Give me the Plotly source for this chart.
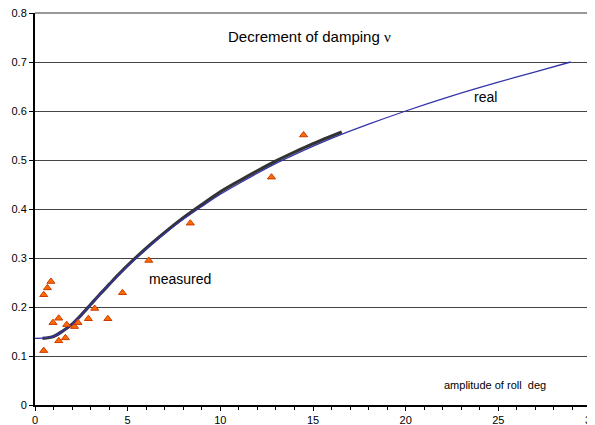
import plotly.graph_objects as go

# measured points (amplitude deg, decrement)
meas_x = [0.47, 0.47, 0.67, 0.86, 0.97, 1.28, 1.28, 1.64, 1.71, 2.13, 2.32, 2.88, 3.22, 3.93, 4.72, 6.14, 8.38, 12.76, 14.49]
meas_y = [0.111, 0.225, 0.239, 0.252, 0.168, 0.177, 0.131, 0.137, 0.164, 0.160, 0.168, 0.176, 0.197, 0.176, 0.229, 0.295, 0.371, 0.465, 0.551]

# "real" curve (thin blue)
real_x = [0, 0.5, 1.0, 1.5, 2.0, 2.5, 3.0, 3.5, 4.0, 4.5, 5.0, 6.0, 7.0, 8.0, 9.0, 10.0, 11.0, 12.0, 13.0, 14.0, 16.0, 18.0, 20.0, 22.5, 25.0, 27.0, 28.9]
real_y = [0.136, 0.137, 0.140, 0.151, 0.165, 0.184, 0.205, 0.226, 0.246, 0.265, 0.2835, 0.318, 0.350, 0.379, 0.405, 0.430, 0.452, 0.473, 0.493, 0.511, 0.544, 0.573, 0.600, 0.631, 0.659, 0.680, 0.700]

# fitted curve to measurements (thick dark)
fit_x = [0.4, 1.0, 1.5, 2.0, 2.5, 3.0, 3.5, 4.0, 4.5, 5.0, 6.0, 7.0, 8.0, 9.0, 10.0, 11.0, 12.0, 13.0, 14.0, 15.0, 16.55]
fit_y = [0.136, 0.140, 0.151, 0.165, 0.184, 0.205, 0.226, 0.246, 0.266, 0.285, 0.320, 0.352, 0.382, 0.409, 0.435, 0.457, 0.478, 0.498, 0.516, 0.533, 0.557]

fig = go.Figure()
fig.add_trace(go.Scatter(x=fit_x, y=fit_y, mode="lines", line=dict(color="#333333", width=3.2, shape="spline", smoothing=0.8), hoverinfo="skip"))
fig.add_trace(go.Scatter(x=real_x, y=real_y, mode="lines", line=dict(color="#3535A8", width=1.3, shape="spline", smoothing=0.8), hoverinfo="skip"))
fig.add_trace(go.Scatter(x=meas_x, y=meas_y, mode="markers",
                         marker=dict(symbol="triangle-up", size=7, color="#FF6A00", line=dict(color="#C83C00", width=1))))

# page body has an 8px margin, so the figure is sized/offset to land the plot where the reference has it
fig.update_layout(
    width=587, height=417,
    margin=dict(l=27, r=4, t=5, b=20),
    paper_bgcolor="white", plot_bgcolor="white",
    showlegend=False,
    font=dict(family="Liberation Sans, Arial", size=11, color="#000000"),
    xaxis=dict(range=[0, 30], dtick=5, tick0=0, showgrid=False, zeroline=False, automargin=False,
               showline=True, linecolor="#000000", linewidth=2, ticklabeloverflow="allow",
               ticks="outside", ticklen=4, tickcolor="#000000", tickwidth=1,
               minor=dict(dtick=1, ticks="outside", ticklen=3, tickcolor="#000000", showgrid=False),
               tickfont=dict(size=11)),
    yaxis=dict(range=[0, 0.8], dtick=0.1, tick0=0, tickformat=".1~f", showgrid=True, automargin=False,
               gridcolor="#444444", gridwidth=1, zeroline=False, ticklabeloverflow="allow",
               showline=True, linecolor="#000000", linewidth=2,
               ticks="outside", ticklen=4, tickcolor="#000000",
               tickfont=dict(size=11)),
    shapes=[
        dict(type="line", xref="x domain", yref="y domain", x0=0, x1=1, y0=1, y1=1, line=dict(color="#777777", width=1.5)),
        dict(type="line", xref="x domain", yref="y domain", x0=1, x1=1, y0=0, y1=1, line=dict(color="#777777", width=1.5)),
    ],
    annotations=[
        dict(x=14.8, y=0.753, xref="x", yref="y",
             text="Decrement of damping <span style='font-family:Liberation Serif'>ν</span>",
             showarrow=False, font=dict(size=15), xanchor="center"),
        dict(x=24.3, y=0.629, xref="x", yref="y", text="real", showarrow=False, font=dict(size=14), xanchor="center"),
        dict(x=7.84, y=0.257, xref="x", yref="y", text="measured", showarrow=False, font=dict(size=14), xanchor="center"),
        dict(x=24.8, y=0.041, xref="x", yref="y", text="amplitude of roll  deg", showarrow=False, font=dict(size=11), xanchor="center"),
    ],
)

fig.write_html("out.html")
